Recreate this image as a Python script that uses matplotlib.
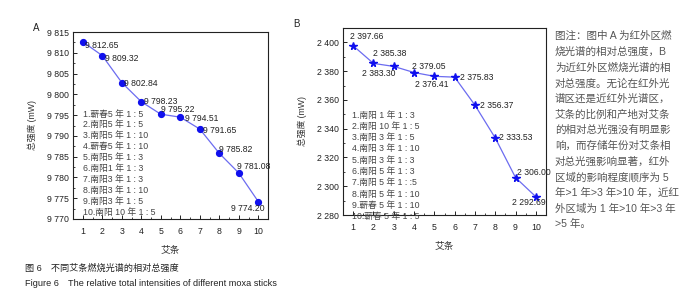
import matplotlib
matplotlib.use("Agg")
import matplotlib.pyplot as plt
from matplotlib.ticker import MultipleLocator, FuncFormatter

plt.rcParams['font.family'] = ['Liberation Sans', 'Noto Sans CJK SC', 'DejaVu Sans']

# ---------------- data ----------------
sticks = [1, 2, 3, 4, 5, 6, 7, 8, 9, 10]
values_a = [9812.65, 9809.32, 9802.84, 9798.23, 9795.22, 9794.51, 9791.65, 9785.82, 9781.08, 9774.20]
values_b = [2397.66, 2385.38, 2383.30, 2379.05, 2376.41, 2375.83, 2356.37, 2333.53, 2306.00, 2292.69]
labels_a = ["1.蕲春5 年 1 : 5", "2.南阳5 年 1 : 5", "3.南阳5 年 1 : 10", "4.蕲春5 年 1 : 10",
            "5.南阳5 年 1 : 3", "6.南阳1 年 1 : 3", "7.南阳3 年 1 : 3", "8.南阳3 年 1 : 10",
            "9.南阳3 年 1 : 5", "10.南阳 10 年 1 : 5"]
labels_b = ["1.南阳 1 年 1 : 3", "2.南阳 10 年 1 : 5", "3.南阳 3 年 1 : 5", "4.南阳 3 年 1 : 10",
            "5.南阳 3 年 1 : 3", "6.南阳 5 年 1 : 3", "7.南阳 5 年 1 : :5", "8.南阳 5 年 1 : 10",
            "9.蕲春 5 年 1 : 10", "10.蕲春 5 年 1 : 5"]
note_lines = ["图注：图中 A 为红外区燃", "烧光谱的相对总强度，B", "为近红外区燃烧光谱的相",
              "对总强度。无论在红外光", "谱区还是近红外光谱区，", "艾条的比例和产地对艾条",
              "的相对总光强没有明显影", "响，而存储年份对艾条相", "对总光强影响显著，红外",
              "区域的影响程度顺序为 5", "年>1 年>3 年>10 年，近红", "外区域为 1 年>10 年>3 年",
              ">5 年。"]
caption_cn = "图 6　不同艾条燃烧光谱的相对总强度"
caption_en = "Figure 6　The relative total intensities of different moxa sticks"

# label offsets in pixels (dx, dy, ha)
offs_a = [(2, -4, 'left'), (3, -3, 'left'), (2, -1, 'left'), (3, 0, 'left'), (0, 5, 'left'),
          (5, -1, 'left'), (3, -1, 'left'), (0, 4, 'left'), (-2, 6, 'left'), (-10, -7, 'center')]
offs_b = [(-3, 9, 'left'), (0, 10, 'left'), (-32, -7, 'left'), (-2, 6, 'left'), (-19, -8, 'left'),
          (5, 0, 'left'), (5, 0, 'left'), (4, 0, 'left'), (1, 5, 'left'), (-24, -6, 'left')]

W, H = 684, 300
fig = plt.figure(figsize=(W / 100, H / 100), dpi=100)
fig.patch.set_facecolor('white')

line_col = '#6c6cf0'
mark_col = '#1010ee'
txt_col = '#333333'

def fmt(v):
    s = f"{v:,.2f}"
    return s.replace(",", " ")

def style_axes(ax, xlab):
    ax.set_xlim(0.5, 10.5)
    ax.xaxis.set_major_locator(MultipleLocator(1))
    ax.xaxis.set_minor_locator(MultipleLocator(0.5))
    ax.tick_params(which='both', direction='in', labelsize=6.3, colors='#222222')
    ax.tick_params(which='major', length=3, width=0.7)
    ax.tick_params(which='minor', length=1.6, width=0.6)
    ax.tick_params(axis='x', pad=6)
    ax.tick_params(axis='y', pad=3)
    for sp in ax.spines.values():
        sp.set_linewidth(0.8)
        sp.set_color('#222222')
    ax.set_xlabel(xlab, fontsize=7, color=txt_col, labelpad=6)
    ax.set_ylabel("总强度 (mW)", fontsize=6.3, color=txt_col, labelpad=7)

# ---------------- panel A ----------------
axA = fig.add_axes([73 / W, 1 - 219 / H, 195 / W, 187 / H])
axA.plot(sticks, values_a, color=line_col, lw=0.9, marker='o', ms=4.2,
         mfc=mark_col, mec=mark_col, zorder=3)
axA.set_ylim(9770, 9815)
axA.yaxis.set_major_locator(MultipleLocator(5))
axA.yaxis.set_minor_locator(MultipleLocator(2.5))
axA.yaxis.set_major_formatter(FuncFormatter(lambda v, p: f"{v:,.0f}".replace(",", " ")))
style_axes(axA, "艾条")
for x, v, (dx, dy, ha) in zip(sticks, values_a, offs_a):
    axA.annotate(fmt(v), (x, v), xytext=(dx, dy), textcoords='offset pixels',
                 ha=ha, va='center', fontsize=6.2, color='#222222')
for i, t in enumerate(labels_a):
    axA.text(0.051, (219 - (114 + i * 10.9)) / 187, t, transform=axA.transAxes,
             ha='left', va='center', fontsize=6.3, color='#444444')
fig.text(33 / W, 1 - 28 / H, "A", fontsize=7, color='#222222', ha='left', va='center')

# ---------------- panel B ----------------
axB = fig.add_axes([343 / W, 1 - 215 / H, 203 / W, 187 / H])
axB.plot(sticks, values_b, color=line_col, lw=0.9, marker='*', ms=5.5,
         mfc=mark_col, mec=mark_col, zorder=3)
axB.set_ylim(2280, 2410)
axB.yaxis.set_major_locator(MultipleLocator(20))
axB.yaxis.set_minor_locator(MultipleLocator(10))
axB.yaxis.set_major_formatter(FuncFormatter(lambda v, p: f"{v:,.0f}".replace(",", " ")))
style_axes(axB, "艾条")
for x, v, (dx, dy, ha) in zip(sticks, values_b, offs_b):
    axB.annotate(fmt(v), (x, v), xytext=(dx, dy), textcoords='offset pixels',
                 ha=ha, va='center', fontsize=6.2, color='#222222')
for i, t in enumerate(labels_b):
    axB.text(0.044, (215 - (115 + i * 11.3)) / 187, t, transform=axB.transAxes,
             ha='left', va='center', fontsize=6.3, color='#444444')
fig.text(293 / W, 1 - 24 / H, "B", fontsize=7, color='#222222', ha='left', va='center')

# ---------------- note text ----------------
for i, t in enumerate(note_lines):
    fig.text(555 / W, 1 - (36 + i * 15.7) / H, t, fontsize=7.6, color='#555555',
             ha='left', va='center')

# ---------------- caption ----------------
fig.text(25 / W, 1 - 268 / H, caption_cn, fontsize=6.6, color='#222222', ha='left', va='center')
fig.text(25 / W, 1 - 283 / H, caption_en, fontsize=6.6, color='#222222', ha='left', va='center')

fig.savefig("out.png", dpi=100, facecolor='white')
